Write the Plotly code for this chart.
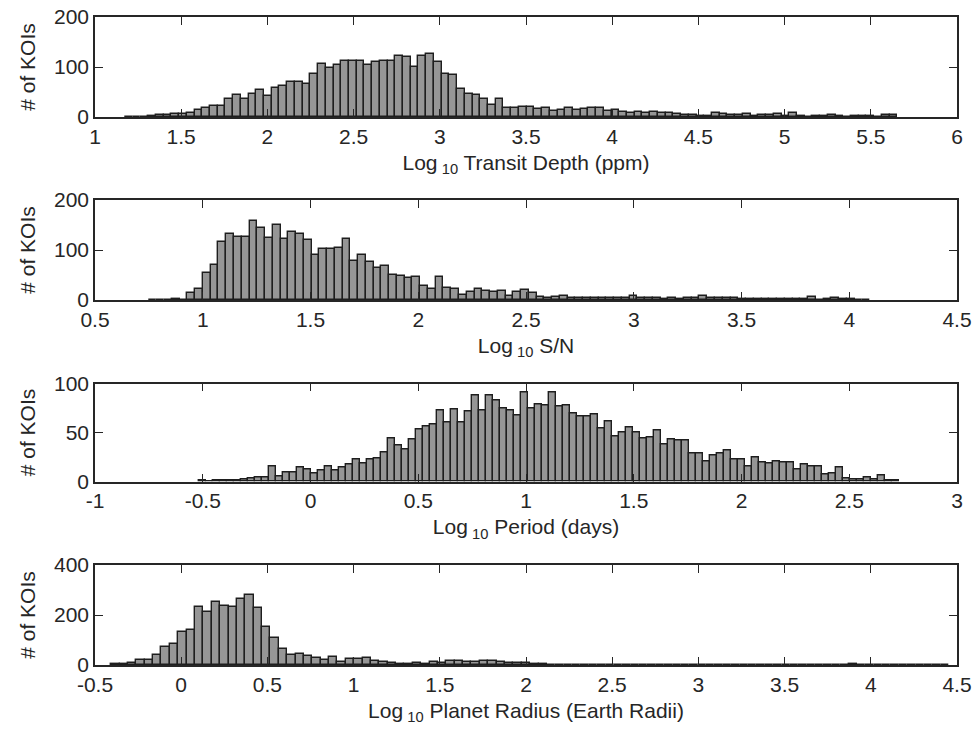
import numpy as np
import plotly.graph_objects as go

# ---------------- data (histogram counts, 100 bins each) ----------------
depth_counts = [1, 1, 1, 3, 4, 4, 7, 7, 9, 14,
                18, 22, 23, 36, 44, 37, 46, 54, 42, 59,
                62, 71, 70, 67, 87, 107, 98, 105, 113, 113,
                113, 105, 110, 112, 113, 122, 120, 100, 122, 126,
                110, 87, 84, 57, 47, 45, 37, 24, 37, 19,
                18, 20, 20, 17, 18, 13, 14, 19, 14, 16,
                19, 19, 13, 14, 11, 9, 11, 9, 10, 8,
                8, 7, 4, 4, 3, 3, 8, 7, 5, 4,
                6, 3, 4, 5, 7, 3, 8, 3, 1, 2,
                3, 4, 3, 1, 3, 3, 2, 1, 4, 5]
depth_bin_start = 1.174
depth_bin_width = 0.0448

snr_counts = [None, None, None, None, None, None, None, 1, 0, 1,
              2, 1, 15, 22,
              55, 70, 117, 132, 127, 126, 158, 144, 124, 151,
              122, 136, 133, 120, 90, 103, 103, 104, 122, 78,
              91, 77, 64, 68, 51, 49, 45, 46, 29, 22,
              46, 24, 22, 10, 17, 22, 18, 17,
              18, 9, 16, 20, 14, 6, 4, 7, 8, 5,
              4, 4, 5, 4, 5, 4, 4, 8, 4, 5,
              5, 3, 4, 3, 4, 5, 8, 4, 4, 5,
              5, 2, 3, 2, 3, 2, 3, 2, 3, 2,
              7, 1, 2, 4, 2, 3, 1, 1]
snr_bin_start = 0.497
snr_bin_width = 0.036

period_counts = [1, 0, 1, 1, 1, 1, 2, 3, 4, 4, 15, 5, 9,
                 9, 14, 12, 8, 11, 15, 11, 14, 17, 22,
                 18, 22, 23, 30, 44, 37, 33, 43, 53, 56,
                 58, 72, 60, 73, 60, 71, 88, 72, 88, 83,
                 75, 72, 67, 91,
                 75, 79, 78, 91, 77, 78, 69, 66, 66, 68,
                 54, 61, 46, 50, 55, 50, 44, 45, 52, 38,
                 43, 42, 42, 29, 29, 20, 27, 29, 32, 22,
                 22, 15, 24, 19, 18, 20, 19, 19, 12, 17,
                 15, 15, 7, 8, 14, 3, 2, 2, 4, 2,
                 6, 1, 1]
period_bin_start = -0.517
period_bin_width = 0.0325

radius_counts = [4, 3, 9, 20, 20, 40, 71, 84, 133, 140,
                 232, 211, 253, 237, 231, 263, 281, 227, 151, 109,
                 64, 39, 44, 36, 28, 20, 31, 13, 24,
                 24, 27, 16, 14, 8, 5, 5, 7, 4, 14,
                 9, 16, 16, 14, 14, 16, 16, 12, 8, 8,
                 7, 6, 3,
                 2, 1, 1, 0, 1, 1, 0, 1, 0, 1,
                 0, 1, 0, 0, 1, 0, 1, 0, 0, 1,
                 0, 0, 1, 0, 0, 0, 1, 0, 0, 0,
                 0, 0, 0, 0, 0, 0, 3, 1, 0, 0,
                 0, 1, 0, 0, 0, 0, 0, 1]
radius_bin_start = -0.406
radius_bin_width = 0.0486

x_labels = ["Log\u2009<sub>10</sub> Transit Depth (ppm)",
            "Log\u2009<sub>10</sub> S/N",
            "Log\u2009<sub>10</sub> Period (days)",
            "Log\u2009<sub>10</sub> Planet Radius (Earth Radii)"]
y_label = "# of KOIs"

x_ranges = [[1, 6], [0.5, 4.5], [-1, 3], [-0.5, 4.5]]
y_ranges = [[0, 200], [0, 200], [0, 100], [0, 400]]
y_dticks = [100, 100, 50, 200]

# ---------------- figure ----------------
panels = [
    (depth_counts, depth_bin_start, depth_bin_width),
    (snr_counts, snr_bin_start, snr_bin_width),
    (period_counts, period_bin_start, period_bin_width),
    (radius_counts, radius_bin_start, radius_bin_width),
]

W, H = 975, 736
ml, mr, mt, mb = 95, 18, 17, 71
ph = H - mt - mb
pb = H - mb

def dom(t, b):
    return [(pb - b) / ph, (pb - t) / ph]

domains = [dom(17, 117), dom(200, 300), dom(383.5, 481.5), dom(565, 665)]

FONT = "Liberation Sans, Arial, Helvetica, sans-serif"
AX = "#262626"

fig = go.Figure()
layout = dict(
    width=W, height=H,
    margin=dict(l=ml, r=mr, t=mt, b=mb, autoexpand=False),
    plot_bgcolor="white", paper_bgcolor="white",
    font=dict(family=FONT, size=21, color=AX),
    showlegend=False, bargap=0,
)

for i, (counts, start, w) in enumerate(panels):
    n = i + 1
    counts = np.array(counts, dtype=float)
    centers = start + w * (np.arange(len(counts)) + 0.5)
    fig.add_trace(go.Bar(
        x=centers, y=counts, width=w,
        marker=dict(color="rgb(150,150,150)",
                    line=dict(color="#1e1e1e", width=1.4)),
        xaxis=f"x{n}", yaxis=f"y{n}", hoverinfo="x+y",
    ))
    xr = x_ranges[i]
    xt = np.arange(xr[0], xr[1] + 1e-9, 0.5)
    yr = y_ranges[i]
    yt = np.arange(yr[0], yr[1] + 1e-9, y_dticks[i])
    layout[f"xaxis{n}" if n > 1 else "xaxis"] = dict(
        domain=[0, 1], anchor=f"y{n}", range=xr, automargin=False,
        tickmode="array", tickvals=xt, ticktext=[f"{v:g}" for v in xt],
        ticks="inside", ticklen=8, tickwidth=1.3, tickcolor=AX,
        showline=True, linecolor=AX, linewidth=1.5, mirror="ticks",
        showgrid=False, zeroline=False, ticklabeloverflow="allow",
        tickfont=dict(size=21, color=AX),
        title=dict(text=x_labels[i], font=dict(size=21, color=AX), standoff=8),
    )
    layout[f"yaxis{n}" if n > 1 else "yaxis"] = dict(
        domain=domains[i], anchor=f"x{n}", range=yr, automargin=False,
        tickmode="array", tickvals=yt, ticktext=[f"{v:g}" for v in yt],
        ticks="inside", ticklen=8, tickwidth=1.3, tickcolor=AX,
        showline=True, linecolor=AX, linewidth=1.5, mirror="ticks",
        showgrid=False, zeroline=False, ticklabeloverflow="allow",
        tickfont=dict(size=21, color=AX),
        title=dict(text=y_label, font=dict(size=21, color=AX), standoff=13),
    )

fig.update_layout(**layout)
fig.write_html("out.html",
               config={"displayModeBar": False},
               post_script="document.body.style.margin='0';"
                           "document.body.style.overflow='hidden';")
